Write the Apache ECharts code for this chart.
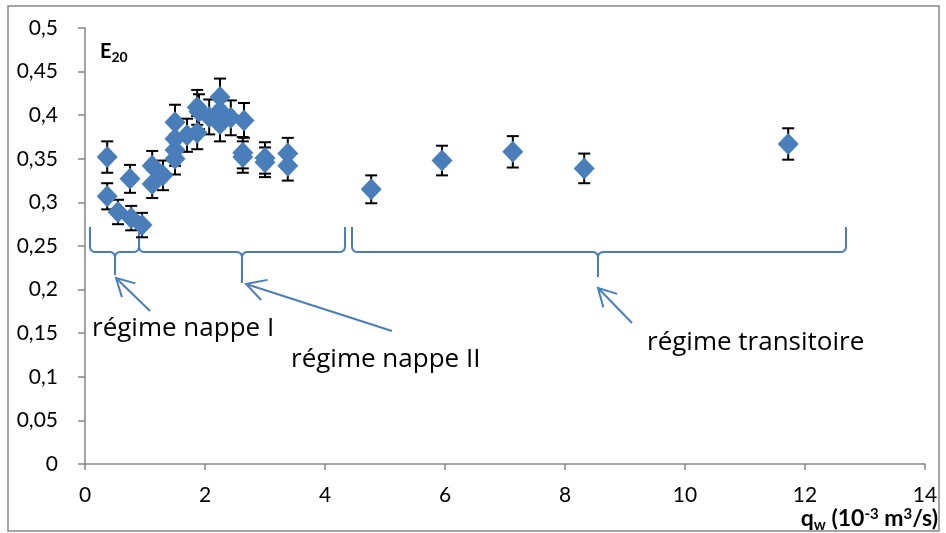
<!DOCTYPE html>
<html><head><meta charset="utf-8">
<script src="https://cdn.jsdelivr.net/npm/echarts@6/dist/echarts.min.js"></script>
<style>html,body{margin:0;padding:0;background:#fff}#c{width:946px;height:533px}</style>
</head><body><div id="c"></div>
<script>
// q_w (10^-3 m^3/s)
var qw = [0.37, 0.37, 0.55, 0.75, 0.77, 0.95,
  1.12, 1.12, 1.3, 1.5, 1.5, 1.5, 1.5, 1.7, 1.87, 1.9, 1.87, 2.07, 2.25, 2.25, 2.25, 2.43, 2.65, 2.63, 2.63, 3.0, 3.0, 3.38, 3.38,
  4.77, 5.95, 7.13, 8.32, 11.72];
// E20
var e20 = [0.352, 0.307, 0.289, 0.327, 0.282, 0.274,
  0.342, 0.321, 0.331, 0.392, 0.373, 0.36, 0.35, 0.377, 0.409, 0.404, 0.38, 0.398, 0.421, 0.405, 0.39, 0.397, 0.394, 0.357, 0.352, 0.351, 0.346, 0.356, 0.342,
  0.315, 0.348, 0.358, 0.339, 0.367];
// error (+/-)
var errs = [0.018, 0.015, 0.014, 0.016, 0.014, 0.014,
  0.017, 0.016, 0.017, 0.02, 0.019, 0.018, 0.018, 0.019, 0.02, 0.02, 0.019, 0.02, 0.021, 0.02, 0.02, 0.02, 0.02, 0.018, 0.018, 0.018, 0.017, 0.018, 0.017,
  0.016, 0.017, 0.018, 0.017, 0.018];
var xTicks = [0, 2, 4, 6, 8, 10, 12, 14];
var yTicks = [0, 0.05, 0.1, 0.15, 0.2, 0.25, 0.3, 0.35, 0.4, 0.45, 0.5];
var regimeLabels = ['régime nappe I', 'régime nappe II', 'régime transitoire'];

var pts = qw.map(function (x, i) { return [x, e20[i]]; });
var errData = qw.map(function (x, i) { return [x, e20[i], errs[i]]; });

var blue = '#4A7EBB';
var font = 'Lato, "Open Sans", sans-serif';
var annFont = '"Open Sans", Lato, sans-serif';

function quad(out, p0, c, p1) {
  for (var t = 0.1; t <= 1.0001; t += 0.1) {
    var a = (1 - t) * (1 - t), b = 2 * (1 - t) * t, d = t * t;
    out.push([a * p0[0] + b * c[0] + d * p1[0], a * p0[1] + b * c[1] + d * p1[1]]);
  }
}
function braceLines(x1, x2, xm, yTop, yMid, yTip, r) {
  var left = [[x1, yTop], [x1, yMid - r]];
  quad(left, [x1, yMid - r], [x1, yMid], [x1 + r, yMid]);
  left.push([xm - r, yMid]);
  quad(left, [xm - r, yMid], [xm, yMid], [xm, yMid + r]);
  left.push([xm, yTip]);
  var right = [[x2, yTop], [x2, yMid - r]];
  quad(right, [x2, yMid - r], [x2, yMid], [x2 - r, yMid]);
  right.push([xm + r, yMid]);
  quad(right, [xm + r, yMid], [xm, yMid], [xm, yMid + r]);
  return [left, right];
}
var lineStyle = { stroke: blue, lineWidth: 2, fill: null };
function braceEls(x1, x2, xm, yTop, yMid, yTip, r) {
  return braceLines(x1, x2, xm, yTop, yMid, yTip, r).map(function (p) {
    return { type: 'polyline', shape: { points: p }, style: lineStyle, silent: true };
  });
}
function arrowEls(tx, ty, hx, hy, len) {
  var a = Math.atan2(ty - hy, tx - hx), s = 0.5;
  var w1 = [hx + len * Math.cos(a + s), hy + len * Math.sin(a + s)];
  var w2 = [hx + len * Math.cos(a - s), hy + len * Math.sin(a - s)];
  return [
    { type: 'line', shape: { x1: tx, y1: ty, x2: hx, y2: hy }, style: lineStyle, silent: true },
    { type: 'polyline', shape: { points: [w1, [hx, hy], w2] }, style: lineStyle, silent: true }
  ];
}
function label(text, x, y) {
  return { type: 'text', x: x, y: y, silent: true,
    style: { text: text, font: '26px ' + annFont, fill: '#000', verticalAlign: 'middle', align: 'left' } };
}

var graphics = [
  { type: 'rect', shape: { x: 8, y: 6, width: 931, height: 525 }, style: { stroke: '#868686', lineWidth: 1.5, fill: null }, silent: true }
].concat(
  braceEls(90, 139, 115, 227, 252, 275, 6),
  braceEls(139, 345, 242, 227, 252, 283, 6),
  braceEls(352, 846, 598, 227, 252, 277, 6),
  arrowEls(150, 311, 116, 278, 20),
  arrowEls(392, 331, 246, 284, 22),
  arrowEls(632, 323, 598, 288, 20),
  [
  label(regimeLabels[0], 92, 329),
  label(regimeLabels[1], 291, 360),
  label(regimeLabels[2], 647, 343),
  { type: 'text', x: 100, y: 52, silent: true, style: {
      text: '{b|E}{s|20}', fill: '#000', verticalAlign: 'middle',
      rich: { b: { fontFamily: font, fontWeight: 'bold', fontSize: 20, fill: '#000' },
              s: { fontFamily: font, fontWeight: 'bold', fontSize: 14, fill: '#000', padding: [11, 0, 0, 0] } } } },
  { type: 'text', x: 938, y: 519, silent: true, style: {
      text: '{b|q}{s|w}{b| (10}{p|-3}{b| m}{p|3}{b|/s)}', fill: '#000', align: 'right', verticalAlign: 'middle',
      rich: { b: { fontFamily: font, fontWeight: 'bold', fontSize: 23, fill: '#000' },
              s: { fontFamily: font, fontWeight: 'bold', fontSize: 15, fill: '#000', padding: [12, 0, 0, 0] },
              p: { fontFamily: font, fontWeight: 'bold', fontSize: 15, fill: '#000', padding: [0, 0, 9, 0] } } } }
  ]);

var chart = echarts.init(document.getElementById('c'));
chart.setOption({
  animation: false,
  backgroundColor: '#fff',
  grid: { left: 85, right: 21, top: 28, bottom: 69, containLabel: false },
  xAxis: {
    type: 'value', min: xTicks[0], max: xTicks[xTicks.length - 1], interval: xTicks[1] - xTicks[0],
    splitLine: { show: false },
    axisLine: { show: true, onZero: false, lineStyle: { color: '#868686', width: 1.5 } },
    axisTick: { show: true, length: 6, lineStyle: { color: '#868686', width: 1.5 } },
    axisLabel: { color: '#000', fontSize: 21, fontFamily: font, margin: 21 }
  },
  yAxis: {
    type: 'value', min: yTicks[0], max: yTicks[yTicks.length - 1], interval: 0.05,
    splitLine: { show: false },
    axisLine: { show: true, onZero: false, lineStyle: { color: '#868686', width: 1.5 } },
    axisTick: { show: true, length: 7, lineStyle: { color: '#868686', width: 1.5 } },
    axisLabel: { color: '#000', fontSize: 21, fontFamily: font, margin: 27,
      formatter: function (v) { return String(+v.toFixed(2)).replace('.', ','); } }
  },
  series: [
    {
      type: 'custom', data: errData, z: 2,
      renderItem: function (params, api) {
        var x = api.value(0), y = api.value(1), e = api.value(2);
        var top = api.coord([x, y + e]), bot = api.coord([x, y - e]);
        var hw = 6;
        var st = { stroke: '#000', lineWidth: 2 };
        return { type: 'group', children: [
          { type: 'line', shape: { x1: top[0], y1: top[1], x2: bot[0], y2: bot[1] }, style: st },
          { type: 'line', shape: { x1: top[0] - hw, y1: top[1], x2: top[0] + hw, y2: top[1] }, style: st },
          { type: 'line', shape: { x1: bot[0] - hw, y1: bot[1], x2: bot[0] + hw, y2: bot[1] }, style: st }
        ] };
      }
    },
    {
      type: 'scatter', data: pts, z: 3, symbol: 'diamond', symbolSize: [21, 22],
      itemStyle: { color: blue, opacity: 1 }
    }
  ],
  graphic: graphics
});
</script></body></html>
